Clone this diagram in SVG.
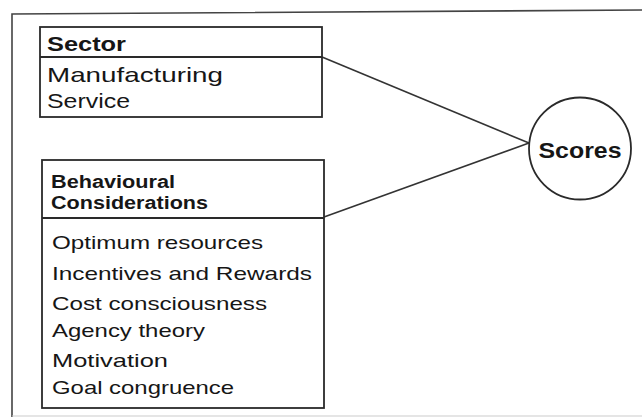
<svg xmlns="http://www.w3.org/2000/svg" width="642" height="418" viewBox="0 0 642 418">
<style>
.box{fill:none;stroke:#2a2a2a;stroke-width:1.8}
.div{stroke:#2a2a2a;stroke-width:1.8}
.conn{stroke:#333;stroke-width:1.6;fill:none}
.h{font-family:"Liberation Sans",Arial,sans-serif;font-weight:bold;fill:#161616}
.t{font-family:"Liberation Sans",Arial,sans-serif;fill:#161616;font-size:19px}
</style>
<rect x="0" y="0" width="642" height="418" fill="#ffffff"/>
<g id="frame">
<path d="M642 10 L12 14 L12 417" fill="none" stroke="#444" stroke-width="1.6"/>
<line x1="12" y1="416" x2="642" y2="416" stroke="#ccc" stroke-width="1.2"/>
</g>
<g id="connectors">
<line class="conn" x1="322" y1="57" x2="529" y2="143"/>
<line class="conn" x1="324" y1="217" x2="529" y2="143"/>
</g>
<g id="sector">
<rect class="box" x="40" y="27" width="282" height="90"/>
<line class="div" x1="40" y1="57" x2="322" y2="57"/>
<text class="h" x="47" y="51" font-size="20" textLength="79" lengthAdjust="spacingAndGlyphs">Sector</text>
<text class="t" x="47" y="82" font-size="21" style="font-size:21px" textLength="176" lengthAdjust="spacingAndGlyphs">Manufacturing</text>
<text class="t" x="47" y="108" style="font-size:21px" textLength="83" lengthAdjust="spacingAndGlyphs">Service</text>
</g>
<g id="behavioural">
<rect class="box" x="42" y="160" width="282" height="248"/>
<line class="div" x1="42" y1="218" x2="324" y2="218"/>
<text class="h" x="51" y="188" font-size="18" textLength="124" lengthAdjust="spacingAndGlyphs">Behavioural</text>
<text class="h" x="51" y="209" font-size="18" textLength="157" lengthAdjust="spacingAndGlyphs">Considerations</text>
<text class="t" x="52" y="249" textLength="211" lengthAdjust="spacingAndGlyphs">Optimum resources</text>
<text class="t" x="52" y="280" textLength="260" lengthAdjust="spacingAndGlyphs">Incentives and Rewards</text>
<text class="t" x="52" y="310" textLength="215" lengthAdjust="spacingAndGlyphs">Cost consciousness</text>
<text class="t" x="52" y="337" textLength="153" lengthAdjust="spacingAndGlyphs">Agency theory</text>
<text class="t" x="52" y="367" textLength="116" lengthAdjust="spacingAndGlyphs">Motivation</text>
<text class="t" x="52" y="394" textLength="182" lengthAdjust="spacingAndGlyphs">Goal congruence</text>
</g>
<g id="scores">
<circle cx="580" cy="148.5" r="51" fill="#fff" stroke="#2a2a2a" stroke-width="1.8"/>
<text class="h" x="580" y="158" font-size="22" text-anchor="middle" textLength="83" lengthAdjust="spacingAndGlyphs">Scores</text>
</g>
</svg>
